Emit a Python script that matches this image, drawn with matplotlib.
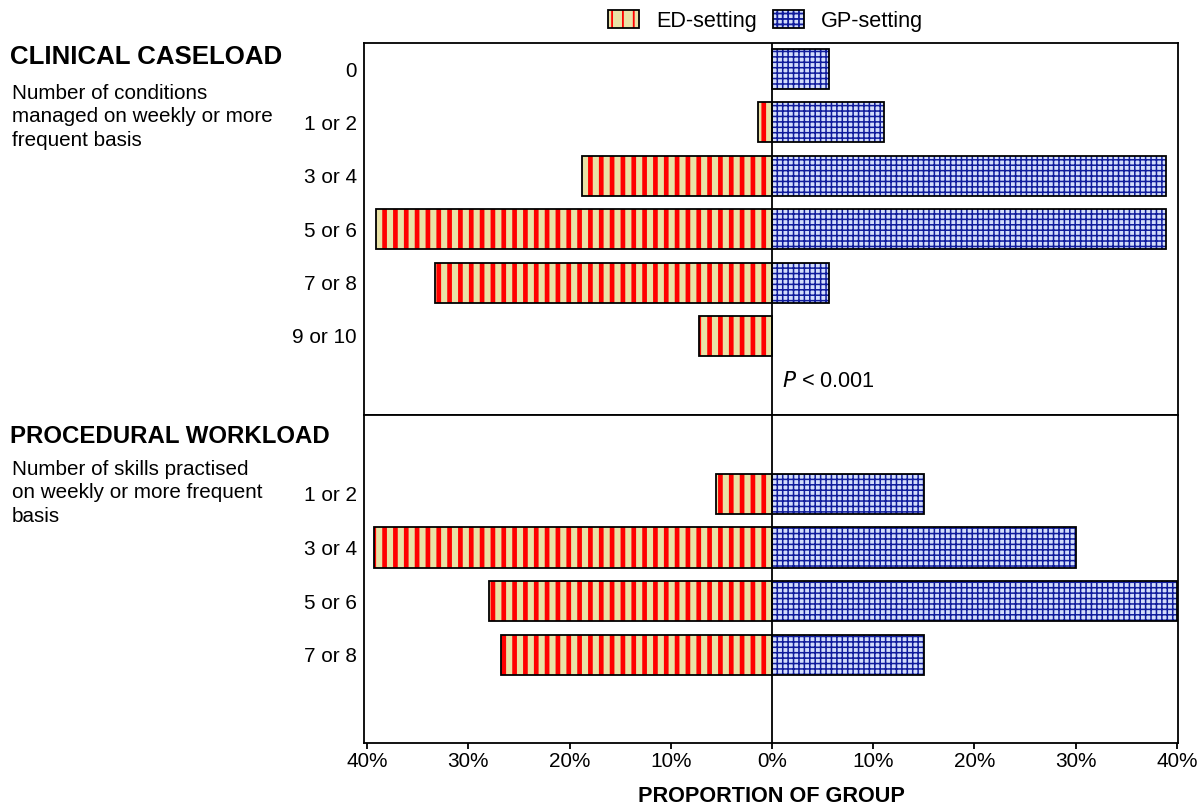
import matplotlib
matplotlib.use("Agg")
import matplotlib.pyplot as plt
from matplotlib.patches import Patch
from matplotlib.legend_handler import HandlerTuple
import numpy as np

# ---- data (percent of group) ----
clin_cats = ["0", "1 or 2", "3 or 4", "5 or 6", "7 or 8", "9 or 10"]
clin_ed = [0.0, 1.4, 18.8, 39.1, 33.3, 7.2]
clin_gp = [5.6, 11.1, 38.9, 38.9, 5.6, 0.0]

proc_cats = ["1 or 2", "3 or 4", "5 or 6", "7 or 8"]
proc_ed = [5.5, 39.3, 28.0, 26.8]
proc_gp = [15.0, 30.0, 40.0, 15.0]

xticks = [-40, -30, -20, -10, 0, 10, 20, 30, 40]
xticklabels = ["40%", "30%", "20%", "10%", "0%", "10%", "20%", "30%", "40%"]

# ---- style ----
ED_FACE = "#e9e2a6"
ED_HATCH = "#ff0000"
GP_FACE = "#d3ddfb"
GP_HATCH = "#101c9c"
ED_HLW = 2.6
GP_HLW = 0.85

DPI = 130
plt.rcParams["font.family"] = ["Liberation Sans", "DejaVu Sans"]
fig = plt.figure(figsize=(1202 / DPI, 806 / DPI), dpi=DPI)

L, R = 364 / 1202, 1178 / 1202
T, M, B = 1 - 43 / 806, 1 - 415 / 806, 1 - 743 / 806
ax1 = fig.add_axes([L, M, R - L, T - M])
ax2 = fig.add_axes([L, B, R - L, M - B], sharex=ax1)

BAR_H = 0.75


def with_hatch_lw(artist, lw):
    """Make the artist draw with its own hatch line width."""
    if hasattr(artist, "set_hatch_linewidth"):
        artist.set_hatch_linewidth(lw)
    orig = artist.draw

    def draw(renderer, _orig=orig, _lw=lw):
        with plt.rc_context({"hatch.linewidth": _lw}):
            _orig(renderer)
    artist.draw = draw
    return artist


def hatched_bars(ax, y, w, face, hcol, hatch, hlw):
    with plt.rc_context({"hatch.linewidth": hlw}):
        bars = ax.barh(y, w, height=BAR_H, facecolor=face, edgecolor=hcol,
                       hatch=hatch, linewidth=0, zorder=2)
    for b in bars:
        with_hatch_lw(b, hlw)
    ax.barh(y, w, height=BAR_H, facecolor="none", edgecolor="black",
            linewidth=1.0, zorder=3)


def panel(ax, cats, ed, gp, top_pad, bot_lim):
    y = np.arange(len(cats))
    ed_vals = [-v for v in ed]
    ed_idx = [i for i, v in enumerate(ed) if v > 0]
    gp_idx = [i for i, v in enumerate(gp) if v > 0]
    hatched_bars(ax, y[ed_idx], [ed_vals[i] for i in ed_idx],
                 ED_FACE, ED_HATCH, "||", ED_HLW)
    hatched_bars(ax, y[gp_idx], [gp[i] for i in gp_idx],
                 GP_FACE, GP_HATCH, "++++", GP_HLW)
    ax.set_yticks(y)
    ax.set_yticklabels(cats, fontsize=11.5)
    ax.set_ylim(bot_lim, top_pad)
    ax.tick_params(axis="y", length=0, pad=4)
    ax.axvline(0, color="black", linewidth=1.0, zorder=4)
    for s in ax.spines.values():
        s.set_linewidth(1.0)


panel(ax1, clin_cats, clin_ed, clin_gp, -0.487, 6.48)
panel(ax2, proc_cats, proc_ed, proc_gp, -1.47, 4.64)

ax1.set_xlim(-40.3, 40.1)
ax1.tick_params(axis="x", bottom=False, labelbottom=False)
ax2.set_xticks(xticks)
ax2.set_xticklabels(xticklabels, fontsize=11.5)
ax2.tick_params(axis="x", direction="out", length=3.3, width=1.0, pad=1.5)
ax2.set_xlabel("PROPORTION OF GROUP", fontsize=12, fontweight="bold", labelpad=8.5)

ax1.text(1.0, 5.85, r"$\it{P}$ < 0.001", fontsize=12, ha="left", va="center")

# left-hand annotations
fig.text(10 / 1202, 1 - 57 / 806, "CLINICAL CASELOAD", fontsize=14.3,
         fontweight="bold", ha="left", va="center")
fig.text(12 / 1202, 1 - 84 / 806,
         "Number of conditions\nmanaged on weekly or more\nfrequent basis",
         fontsize=11.4, ha="left", va="top", linespacing=1.3)
fig.text(10 / 1202, 1 - 437 / 806, "PROCEDURAL WORKLOAD", fontsize=13.3,
         fontweight="bold", ha="left", va="center")
fig.text(12 / 1202, 1 - 460 / 806,
         "Number of skills practised\non weekly or more frequent\nbasis",
         fontsize=11.4, ha="left", va="top", linespacing=1.3)


# legend: one legend per entry so each keeps its own hatch line width
def legend_entry(face, hcol, hatch, hlw, label, xc):
    with plt.rc_context({"hatch.linewidth": hlw}):
        h = Patch(facecolor=face, edgecolor=hcol, hatch=hatch, linewidth=0)
    o = Patch(facecolor="none", edgecolor="black", linewidth=1.0)
    leg = fig.legend([(h, o)], [label],
                     handler_map={tuple: HandlerTuple(ndivide=1)},
                     loc="center", bbox_to_anchor=(xc / 1202, 1 - 21 / 806),
                     frameon=False, fontsize=12, handlelength=1.45,
                     handleheight=0.9, handletextpad=0.8,
                     borderpad=0, borderaxespad=0)
    with_hatch_lw(leg, hlw)
    return leg


legend_entry(ED_FACE, ED_HATCH, "||", ED_HLW, "ED-setting", 682.5)
legend_entry(GP_FACE, GP_HATCH, "++++", GP_HLW, "GP-setting", 848)

fig.savefig("out.png", dpi=DPI)
